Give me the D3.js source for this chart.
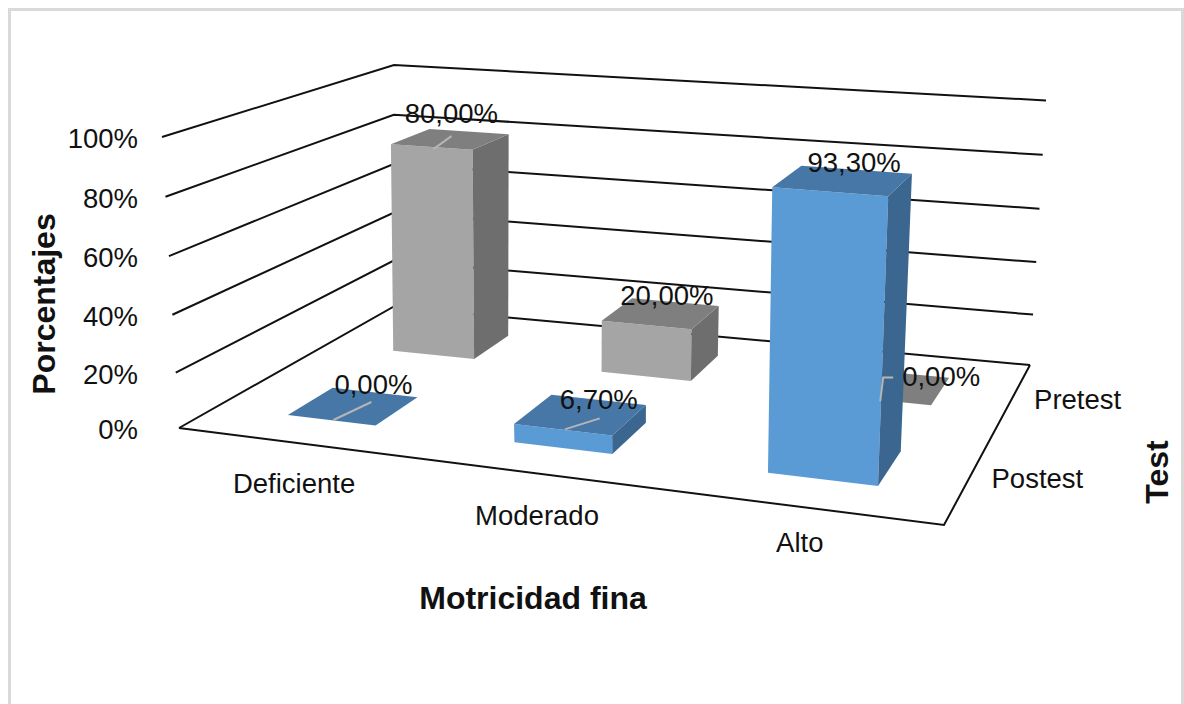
<!DOCTYPE html>
<html>
<head>
<meta charset="utf-8">
<script src="https://cdn.jsdelivr.net/npm/d3@7"></script>
<style>
html,body{margin:0;padding:0;background:#fff;}
svg{display:block;}
text{font-family:"Liberation Sans",Arial,sans-serif;fill:#111;}
</style>
</head>
<body>
<svg id="chart" width="1184" height="704"></svg>
<script>
// Chart data
const categories = ["Deficiente", "Moderado", "Alto"];
const seriesNames = ["Postest", "Pretest"];
const pretestValues = [80.0, 20.0, 0.0];
const postestValues = [0.0, 6.7, 93.3];
const percentTicks = [0, 20, 40, 60, 80, 100];

const W = 1184, H = 704;
const svg = d3.select("#chart");

// Box corners of the 3D plot on screen: floor plane and ceiling plane.
const floorQuad = [[179,428],[944,525],[1030,365],[393,307]];
const ceilQuad  = [[162,137],[960,200],[1046,100.5],[394,65]];

// Homography taking the unit square onto a quad (corners in order 00,10,11,01).
function squareToQuad(q) {
  const [[x0,y0],[x1,y1],[x2,y2],[x3,y3]] = q;
  const dx1 = x1-x2, dx2 = x3-x2, sx = x0-x1+x2-x3;
  const dy1 = y1-y2, dy2 = y3-y2, sy = y0-y1+y2-y3;
  const det = dx1*dy2 - dx2*dy1;
  const g = (sx*dy2 - dx2*sy)/det, h = (dx1*sy - sx*dy1)/det;
  const a = x1-x0+g*x1, b = x3-x0+h*x3, c = x0;
  const d = y1-y0+g*y1, e = y3-y0+h*y3, f = y0;
  return (u,v) => {
    const w = g*u + h*v + 1;
    return [(a*u+b*v+c)/w, (d*u+e*v+f)/w];
  };
}
const floorMap = squareToQuad(floorQuad);
const ceilMap = squareToQuad(ceilQuad);

// Scales along the three axes of the box. Height is very slightly foreshortened
// towards the floor, as the camera looks down on the plot.
const xScale = d3.scaleBand().domain(categories).range([0.012,1.005]).paddingInner(0.6).paddingOuter(0.3);
const depthScale = d3.scaleBand().domain(seriesNames).range([0,1]).paddingInner(0.6).paddingOuter(0.3);
const heightScale = d3.scalePow().exponent(1.03).domain([0,100]).range([0,1]);

function project(u, d, value) {
  const t = heightScale(value);
  const a = floorMap(u,d), b = ceilMap(u,d);
  return [a[0]+(b[0]-a[0])*t, a[1]+(b[1]-a[1])*t];
}

const line = d3.line();
const closed = pts => line(pts) + "Z";
const FONT = 27.5, TITLE = 32;

// Outer frame of the chart area
svg.append("path")
  .attr("d", `M9.5,${H+4}V9.5H1182.5V${H+4}`)
  .attr("fill","none").attr("stroke","#d9d9d9").attr("stroke-width",3);

// Walls: percentage gridlines running along the left and back walls
const grid = svg.append("g").attr("fill","none").attr("stroke","#111").attr("stroke-width",2);
percentTicks.forEach(t => {
  grid.append("path").attr("d", line([project(0,0,t), project(0,1,t), project(1,1,t)]));
});
// Front and right edges of the floor
grid.append("path").attr("d", line([project(0,0,0), project(1,0,0), project(1,1,0)]));

// Percentage tick labels
svg.append("g").selectAll("text").data(percentTicks).join("text")
  .attr("x", 138)
  .attr("y", t => project(0,0,t)[1] + 4)
  .attr("text-anchor","end").attr("dominant-baseline","middle")
  .attr("font-size", FONT)
  .text(t => t + "%");

// Bars, drawn from the back row forward
const palette = {
  Pretest: {front:"#a5a5a5", top:"#7f7f7f", side:"#6e6e6e"},
  Postest: {front:"#5b9bd5", top:"#4777a6", side:"#3b668f"}
};
const rows = [
  {series:"Pretest", values:pretestValues},
  {series:"Postest", values:postestValues}
];
const fmt = v => v.toFixed(2).replace(".", ",") + "%";
const barLayer = svg.append("g");
const marks = [];
rows.forEach(row => {
  const d0 = depthScale(row.series), d1 = d0 + depthScale.bandwidth();
  const c = palette[row.series];
  row.values.forEach((v,i) => {
    const u0 = xScale(categories[i]), u1 = u0 + xScale.bandwidth();
    const p = (u,d,val) => project(u,d,val);
    const g = barLayer.append("g");
    if (v > 0) {
      g.append("path").attr("d", closed([p(u0,d0,0),p(u1,d0,0),p(u1,d0,v),p(u0,d0,v)])).attr("fill",c.front);
      g.append("path").attr("d", closed([p(u1,d0,0),p(u1,d1,0),p(u1,d1,v),p(u1,d0,v)])).attr("fill",c.side);
    }
    g.append("path").attr("d", closed([p(u0,d0,v),p(u1,d0,v),p(u1,d1,v),p(u0,d1,v)])).attr("fill",c.top);
    marks.push({series:row.series, category:categories[i], value:v,
                top:p((u0+u1)/2,(d0+d1)/2,v)});
  });
});

// Data labels sit just off each bar's top centre; some carry a leader line.
const labelPlacement = {
  "Pretest|Deficiente": {dx:1,  dy:-23, leader:[[-18,33],[0,20]]},
  "Pretest|Moderado":   {dx:6,  dy:-16},
  "Pretest|Alto":       {dx:50, dy:-8,  leader:[[-61,23],[-58,-1],[-48,-1]]},
  "Postest|Deficiente": {dx:20, dy:-19, leader:[[-40,33],[-2,15]]},
  "Postest|Moderado":   {dx:18, dy:-13, leader:[[-34,28],[1,17]]},
  "Postest|Alto":       {dx:11, dy:-16}
};
const labelLayer = svg.append("g");
marks.forEach(m => {
  const place = labelPlacement[m.series + "|" + m.category];
  const cx = m.top[0] + place.dx, cy = m.top[1] + place.dy;
  if (place.leader) {
    labelLayer.append("path")
      .attr("d", line(place.leader.map(o => [cx+o[0], cy+o[1]])))
      .attr("fill","none").attr("stroke","#b5b5b5").attr("stroke-width",2);
  }
  labelLayer.append("text")
    .attr("x", cx).attr("y", cy)
    .attr("text-anchor","middle").attr("dominant-baseline","middle")
    .attr("font-size", FONT)
    .text(fmt(m.value));
});

// Category labels below the front floor edge
const categoryNudge = {Deficiente:[-2,43], Moderado:[3,45], Alto:[-2,38]};
svg.append("g").selectAll("text").data(categories).join("text")
  .attr("x", c => project(xScale(c)+xScale.bandwidth()/2, 0, 0)[0] + categoryNudge[c][0])
  .attr("y", c => project(xScale(c)+xScale.bandwidth()/2, 0, 0)[1] + categoryNudge[c][1])
  .attr("text-anchor","middle").attr("dominant-baseline","middle")
  .attr("font-size", FONT)
  .text(c => c);

// Series labels beside the right floor edge
svg.append("g").selectAll("text").data(seriesNames).join("text")
  .attr("x", s => project(1, depthScale(s)+depthScale.bandwidth()/2, 0)[0] + 22)
  .attr("y", s => project(1, depthScale(s)+depthScale.bandwidth()/2, 0)[1] + 3)
  .attr("text-anchor","start").attr("dominant-baseline","middle")
  .attr("font-size", FONT)
  .text(s => s);

// Axis titles
svg.append("text").attr("transform","translate(47,304) rotate(-90)")
  .attr("text-anchor","middle").attr("dominant-baseline","middle")
  .attr("font-size",TITLE).attr("font-weight","bold").text("Porcentajes");
svg.append("text").attr("x",533).attr("y",600.5)
  .attr("text-anchor","middle").attr("dominant-baseline","middle")
  .attr("font-size",TITLE).attr("font-weight","bold").text("Motricidad fina");
svg.append("text").attr("transform","translate(1160,472) rotate(-90)")
  .attr("text-anchor","middle").attr("dominant-baseline","middle")
  .attr("font-size",TITLE).attr("font-weight","bold").text("Test");
</script>
</body>
</html>
